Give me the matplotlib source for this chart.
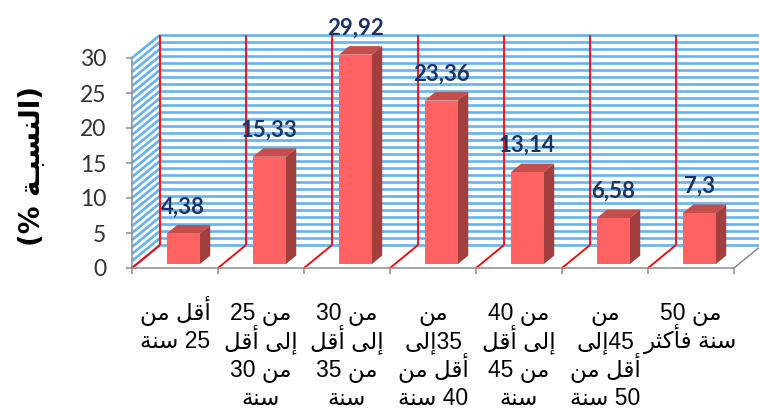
import re

import matplotlib
matplotlib.use("Agg")
import matplotlib.pyplot as plt
import numpy as np
from matplotlib.collections import LineCollection
from matplotlib.patches import Polygon

# chart data
age_groups = [
    ["أقل من", "25 سنة"],
    ["من 25", "إلى أقل", "من 30", "سنة"],
    ["من 30", "إلى أقل", "من 35", "سنة"],
    ["من", "35إلى", "أقل من", "40 سنة"],
    ["من 40", "إلى أقل", "من 45", "سنة"],
    ["من", "45إلى", "أقل من", "50 سنة"],
    ["من 50", "سنة فأكثر"],
]
percentages = [4.38, 15.33, 29.92, 23.36, 13.14, 6.58, 7.3]
value_ticks = [0, 5, 10, 15, 20, 25, 30]
y_title = "(النسبـة %)"

# Arabic presentation forms: isolated, final, initial, medial
FORMS = {
    "\u0627": ("\uFE8D", "\uFE8E", None, None),
    "\u0623": ("\uFE83", "\uFE84", None, None),
    "\u0625": ("\uFE87", "\uFE88", None, None),
    "\u0628": ("\uFE8F", "\uFE90", "\uFE91", "\uFE92"),
    "\u0629": ("\uFE93", "\uFE94", None, None),
    "\u062B": ("\uFE99", "\uFE9A", "\uFE9B", "\uFE9C"),
    "\u0631": ("\uFEAD", "\uFEAE", None, None),
    "\u0633": ("\uFEB1", "\uFEB2", "\uFEB3", "\uFEB4"),
    "\u0640": ("\u0640", "\u0640", "\u0640", "\u0640"),
    "\u0641": ("\uFED1", "\uFED2", "\uFED3", "\uFED4"),
    "\u0642": ("\uFED5", "\uFED6", "\uFED7", "\uFED8"),
    "\u0643": ("\uFED9", "\uFEDA", "\uFEDB", "\uFEDC"),
    "\u0644": ("\uFEDD", "\uFEDE", "\uFEDF", "\uFEE0"),
    "\u0645": ("\uFEE1", "\uFEE2", "\uFEE3", "\uFEE4"),
    "\u0646": ("\uFEE5", "\uFEE6", "\uFEE7", "\uFEE8"),
    "\u0649": ("\uFEEF", "\uFEF0", None, None),
}


def shape(text: str) -> str:
    """Pick the contextual glyph for each letter (matplotlib does no shaping)."""
    out = []
    for k, ch in enumerate(text):
        if ch not in FORMS:
            out.append(ch)
            continue
        prev = text[k - 1] if k > 0 else ""
        nxt = text[k + 1] if k + 1 < len(text) else ""
        join_prev = prev in FORMS and FORMS[prev][2] is not None
        join_next = FORMS[ch][2] is not None and nxt in FORMS
        iso, fin, ini, med = FORMS[ch]
        if join_prev and join_next:
            out.append(med)
        elif join_prev:
            out.append(fin)
        elif join_next:
            out.append(ini)
        else:
            out.append(iso)
    return "".join(out)


def visual(text: str) -> str:
    """Right-to-left line -> left-to-right glyph order, digits kept as they are."""
    out = shape(text)[::-1]
    out = re.sub(r"[0-9]+", lambda m: m.group(0)[::-1], out)
    return out.translate(str.maketrans("()", ")("))


# 3D look, in data units (one category = 86 px, one percent = 7 px)
PX_CAT, PX_UNIT = 86.0, 7.0
DX, DY = 28 / PX_CAT, 23 / PX_UNIT
BAR_LEFT, BAR_W = 0.35, 0.384
F0, F1 = 0.17, 0.54

STRIPE = "#64B3F0"
GRAY = "#8C8C8C"
ARABIC = ["Liberation Sans", "DejaVu Sans"]

fig = plt.figure(figsize=(7.59, 4.15), dpi=100)
ax = fig.add_axes([0, 0, 1, 1])
ax.set_xlim(-132 / PX_CAT, (759 - 132) / PX_CAT)
ax.set_ylim((268 - 415) / PX_UNIT, 268 / PX_UNIT)

n = len(percentages)
top = max(value_ticks)
levels = np.arange(0, top + 1)

# back wall and side wall stripes
ax.hlines(levels + DY, DX, n + DX, colors=STRIPE, lw=1.9, zorder=1)
side = [[(0, v), (DX, v + DY)] for v in levels]
ax.add_collection(LineCollection(side, colors=STRIPE, lw=1.9, zorder=1))

# red category dividers on the wall and the floor
ax.vlines(np.arange(n) + DX, DY, top + DY, colors="red", lw=1.3, zorder=2)
floor = [[(i, 0), (i + DX, DY)] for i in range(n)]
ax.add_collection(LineCollection(floor, colors="red", lw=1.3, zorder=2))
ax.plot([n, n + DX], [0, DY], color=GRAY, lw=1.1, zorder=2)

for i, v in enumerate(percentages):
    x0 = i + BAR_LEFT + F0 * DX
    x1 = x0 + BAR_W
    y0 = F0 * DY
    sx, sy = (F1 - F0) * DX, (F1 - F0) * DY
    front = [(x0, y0), (x1, y0), (x1, y0 + v), (x0, y0 + v)]
    right = [(x1, y0), (x1 + sx, y0 + sy), (x1 + sx, y0 + v + sy), (x1, y0 + v)]
    lid = [(x0, y0 + v), (x1, y0 + v), (x1 + sx, y0 + v + sy), (x0 + sx, y0 + v + sy)]
    ax.add_patch(Polygon(right, closed=True, fc="#A23F3D", ec="none", zorder=3))
    ax.add_patch(Polygon(lid, closed=True, fc="#C44E4B", ec="none", zorder=3))
    ax.add_patch(Polygon(front, closed=True, fc="#FF6262", ec="none", zorder=3))
    ax.annotate(f"{v:g}".replace(".", ","), (x0 + BAR_W / 2, y0 + v),
                xytext=(0, 14.5), textcoords="offset points",
                ha="center", va="baseline", fontsize=16, fontweight="bold",
                family="Lato", color="#1B3468", zorder=4)

# category labels, one text per line so the rows stay evenly spaced
for i, lines in enumerate(age_groups):
    for j, line in enumerate(lines):
        ax.annotate(visual(line), (i + 0.5, 0), xytext=(0, -37.5 - 20.4 * j),
                    textcoords="offset points", ha="center", va="baseline",
                    fontsize=16.5, family=ARABIC, color="black")

for s in ["top", "right"]:
    ax.spines[s].set_visible(False)
ax.spines["left"].set_position(("data", 0))
ax.spines["left"].set_bounds(0, top)
ax.spines["bottom"].set_position(("data", 0))
ax.spines["bottom"].set_bounds(0, n)
for s in ["left", "bottom"]:
    ax.spines[s].set_color(GRAY)
    ax.spines[s].set_linewidth(1.1)

ax.set_yticks(value_ticks)
ax.set_yticklabels([str(t) for t in value_ticks], family="Lato", fontsize=16.5, color="#333333")
ax.tick_params(axis="y", length=4.5, width=1.1, color=GRAY, pad=14)

ax.set_xticks(np.arange(n + 1))
ax.set_xticklabels([])
ax.tick_params(axis="x", length=4.5, width=1.1, color=GRAY)

fig.text(0.042, 0.60, visual(y_title), rotation=90, ha="center", va="center",
         fontsize=20, fontweight="bold", family=["DejaVu Sans"])

fig.savefig("out.png", dpi=100)
